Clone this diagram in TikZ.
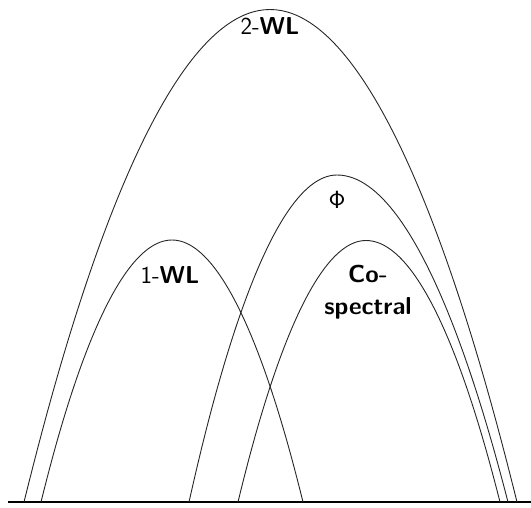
\documentclass[tikz,border=0pt]{standalone}
\begin{document}
\begin{tikzpicture}[x=1pt,y=-1pt,
  arc/.style={line width=0.9pt, black!85},
  base/.style={line width=2.4pt},
  lbl/.style={font=\sffamily\fontsize{24.5}{30}\selectfont, inner sep=0pt, align=center}]
\useasboundingbox (0,0) rectangle (531,507);
% baseline
\coordinate (bl) at (8,502);
\coordinate (br) at (531,502);
\draw[base] (bl) -- (br);
% 2-WL
\draw[arc] (24,502) parabola bend (270,9.5) (517,502);
% 1-WL
\draw[arc] (41,502) parabola bend (172,240) (303,502);
% Phi
\draw[arc] (189,502) parabola bend (337,175) (508,502);
% Co-spectral
\draw[arc] (238,502) parabola bend (366,240.5) (500,502);
% labels
\node[lbl] (twowl) at (270,26) {2-\textbf{WL}};
\node[lbl] (onewl) at (170,275) {1-\textbf{WL}};
\node[lbl] (phi) at (337,200) {$\mathsf{\Phi}$};
\node[lbl,font=\sffamily\bfseries\fontsize{24.5}{32}\selectfont] (cospec) at (368,292) {Co-\\spectral};
\end{tikzpicture}
\end{document}
